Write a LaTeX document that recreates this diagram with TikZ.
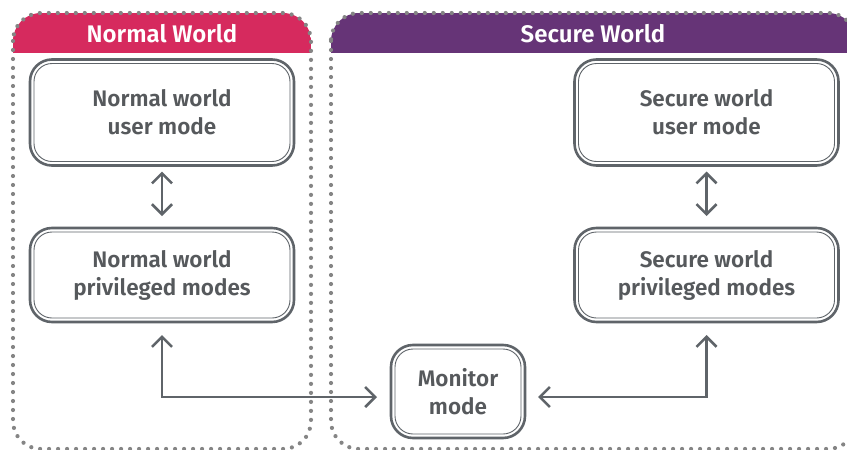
\documentclass[tikz,border=0pt]{standalone}
\usepackage{fontspec}
\setmainfont{Fira Sans}[BoldFont={Fira Sans SemiBold}]
\usetikzlibrary{arrows.meta}
\definecolor{nwpink}{HTML}{D62A5E}
\definecolor{swpurple}{HTML}{663477}
\definecolor{edgegray}{HTML}{5F6469}
\definecolor{txtgray}{HTML}{56595C}
\definecolor{dotgray}{HTML}{858585}
\begin{document}
\begin{tikzpicture}[x=1pt,y=-1pt,
  >={Straight Barb[length=10pt,width=20pt]},
  modebox/.style={draw=edgegray, line width=2.6pt, rounded corners=22pt, fill=white,
    text=txtgray, font=\bfseries\fontsize{22.5}{28}\selectfont, align=center,
    inner sep=0pt, outer sep=0pt, minimum width=264pt},
  worldline/.style={draw=dotgray, line width=4.2pt, line cap=round,
    dash pattern=on 0pt off 9pt, rounded corners=28pt},
  worldtitle/.style={text=white, font=\bfseries\fontsize{24}{28}\selectfont, inner sep=0pt},
  link/.style={draw=edgegray, line width=2.6pt, <->}]
\useasboundingbox (0,0) rectangle (847,450);
\fill[white] (0,0) rectangle (847,450);
\clip (0,0) rectangle (847,450);

% world regions: coloured header band, then dotted outline
\begin{scope}
  \clip[rounded corners=28pt] (13,13) rectangle (311,449);
  \fill[nwpink] (13,13) rectangle (311,53);
\end{scope}
\begin{scope}
  \clip[rounded corners=28pt] (331,13) rectangle (856,449);
  \fill[swpurple] (331,13) rectangle (856,53);
\end{scope}
\draw[worldline] (13,13) rectangle (311,449);
\draw[worldline] (331,13) rectangle (856,449);
\node[worldtitle] (nwtitle) at (162,34) {Normal World};
\node[worldtitle] (swtitle) at (593,34) {Secure World};

% processor modes
\node[modebox, minimum height=106pt] (nu) at (162,112.5) {Normal world\\user mode};
\node[modebox, minimum height=94pt] (np) at (162,275) {Normal world\\privileged modes};
\node[modebox, minimum height=106pt] (su) at (706.5,112.5) {Secure world\\user mode};
\node[modebox, minimum height=94pt] (sp) at (706.5,275) {Secure world\\privileged modes};
\node[modebox, minimum width=134pt, minimum height=93pt] (mon) at (458,391.5) {Monitor\\mode};

% inner rule of the double borders
\foreach \n in {nu,np,su,sp,mon}
  \draw[edgegray, line width=0.9pt, rounded corners=18pt]
    ([shift={(4,4)}]\n.north west) rectangle ([shift={(-4,-4)}]\n.south east);

% transitions
\draw[link] ([shift={(0,6)}]nu.south) -- ([shift={(0,-12)}]np.north);
\draw[link] ([shift={(0,6)}]su.south) -- ([shift={(0,-12)}]sp.north);
\draw[link] ([shift={(0,13)}]np.south) |- ([shift={(-14,5.5)}]mon.west);
\draw[link] ([shift={(13,5.5)}]mon.east) -| ([shift={(0,13)}]sp.south);
\end{tikzpicture}
\end{document}
